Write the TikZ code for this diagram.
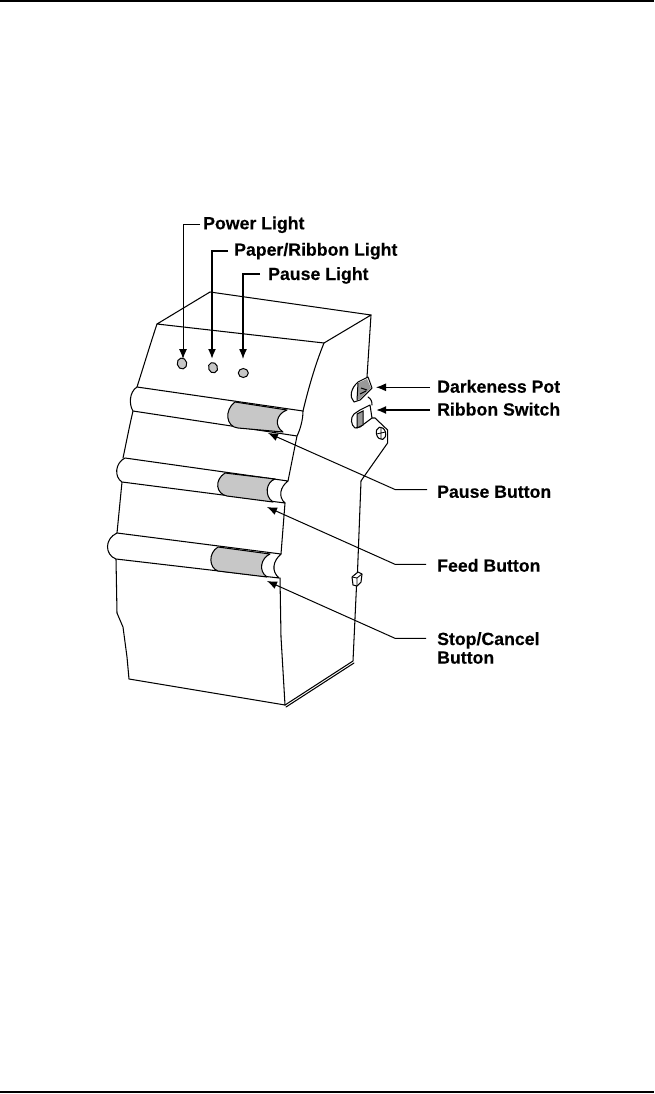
\documentclass[tikz,border=0pt]{standalone}
\usepackage{fontspec}
\setmainfont{Liberation Sans}
\newfontfamily\lblfont{Liberation Sans}[BoldFeatures={FakeBold=0.25}]
\usetikzlibrary{arrows.meta,shapes.geometric}
\tikzset{
  edge/.style={draw=black,line width=1.05pt,line join=round,line cap=round},
  barfill/.style={fill=white,draw=black,line width=1.05pt,line join=round},
  btn/.style={fill=black!22,draw=black,line width=1.05pt,line join=round},
  light/.style={ellipse,fill=black!22,draw=black,line width=1pt,inner sep=0pt},
  lbl/.style={font=\lblfont\fontsize{17.7}{18.6}\selectfont\bfseries,anchor=base west,inner sep=2.5pt,align=left},
  leader/.style={draw=black,line width=1pt,-{Latex[length=10pt,width=8pt]}},
  heavyleader/.style={draw=black,line width=1.8pt,-{Latex[length=10pt,width=8pt]}},
}
\begin{document}
\begin{tikzpicture}[x=1pt,y=-1pt]
\useasboundingbox (0,0) rectangle (654,1094);
\draw[line width=1.1pt] (0,1) -- (654,1);
\draw[line width=1.1pt] (0,1092) -- (654,1092);
% top
\draw[edge] (157,324) -- (210,292) -- (371,315) -- (324,343) -- cycle;
% left profile
\draw[edge] (157,324) .. controls (150,345) and (144,365) .. (137,387);
\draw[edge] (133,411) .. controls (129,428) and (126,444) .. (123,458);
\draw[edge] (122,482) -- (117,533);
\draw[edge] (116,559) -- (117,613) -- (123,627) -- (127,657) -- (129,679) -- (285,705);
% front right profile
\draw[edge] (324,343) .. controls (315,365) and (308,390) .. (303,411);
\draw[edge] (297,436) -- (288,481);
\draw[edge] (285,503) -- (281,554);
\draw[edge] (280,578) -- (281,637) -- (285,705);
% side
\draw[edge] (371,315) -- (367,377);
\draw[edge] (285,705) -- (353,661) -- (356.5,586);
\draw[edge] (286,707) -- (354,663);
\draw[edge] (357.5,572) -- (361,481) -- (363,478) -- (387.6,443) -- (387.6,430) -- (375,418) -- (372,418);
% bars
\draw[barfill] (137,387) -- (303,411) .. controls (303,420) and (300,430) .. (297,436) -- (133,411) .. controls (129,405) and (129,392) .. (137,387) -- cycle;
\draw[barfill] (125,458) -- (288,481) .. controls (280,487) and (278,497) .. (285,503) -- (122,482) .. controls (114,477) and (115,463) .. (125,458) -- cycle;
\draw[barfill] (117,533) -- (281,554) .. controls (273,561) and (271,571) .. (279,578) -- (116,559) .. controls (105,555) and (104,539) .. (117,533) -- cycle;
% buttons
\draw[btn] (235,402) -- (287,410) .. controls (276,414) and (274,426) .. (283,432) -- (238,428) .. controls (226,427) and (224,410) .. (235,402) -- cycle;
\draw[btn] (225,473) -- (275,479) .. controls (266,482) and (264,496) .. (273,502) -- (227,496) .. controls (216,494) and (214,480) .. (225,473) -- cycle;
\draw[btn] (218,547) -- (270,554) .. controls (261,558) and (258,571) .. (267,577) -- (218,571) .. controls (209,568) and (208,553) .. (218,547) -- cycle;
% lights
\node[light,minimum width=9.5pt,minimum height=11pt,rotate=12] (powerled) at (182,363.5) {};
\node[light,minimum width=9pt,minimum height=10.5pt,rotate=20] (paperled) at (213,367.7) {};
\node[light,minimum width=10pt,minimum height=9pt] (pauseled) at (243.3,373) {};
% pot
\draw[barfill] (358,382) -- (368,377) -- (372,388) -- (360,400) -- (354,402) .. controls (349,397) and (351,388) .. (358,382) -- cycle;
\fill[black!40] (358,383) -- (367,379) -- (371,388) -- (360,399) -- (357,400) -- cycle;
\draw[line width=1pt] (361,388) -- (367,390) (360,394) -- (366,391) (358,383) -- (357,400);
\draw[edge] (368,397) .. controls (371,399) and (372,401) .. (372,405);
% ribbon switch
\draw[barfill] (370,405) -- (360,410) -- (354,414) .. controls (350,418) and (351,425) .. (355,428) -- (360,427) -- (372,418) -- cycle;
\fill[black!40] (357,414) -- (363,411) -- (363,425) -- (357,428) -- cycle;
\draw[line width=1pt] (357,414) -- (363,411) -- (363,425) -- (357,428) -- cycle;
% screw
\draw[barfill,rotate around={15:(381,433.3)}] (381,433.3) ellipse (4.6pt and 6.3pt);
\draw[line width=0.8pt] (376.5,434) -- (385.5,432) (381,427.5) -- (381,439);
% small box
\draw[barfill] (352,577) -- (358,572) -- (362,574) -- (361,582) -- (357,586) -- (353,585) -- cycle;
\draw[line width=0.8pt] (352,577) -- (357,578) -- (362,574) (357,578) -- (357,586);
% labels
\node[lbl] (powerlab) at (200.5,229.3) {Power Light};
\node[lbl] (paperlab) at (231.5,255.7) {Paper/Ribbon Light};
\node[lbl] (pauselab) at (265.5,280) {Pause Light};
\node[lbl] (potlab) at (434.5,392.7) {Darkeness Pot};
\node[lbl] (riblab) at (434.5,415.5) {Ribbon Switch};
\node[lbl] (pblab) at (434.5,497.8) {Pause Button};
\node[lbl] (fblab) at (434.5,571.7) {Feed Button};
\node[lbl,anchor=west] (sclab) at (434.5,648) {Stop/Cancel\\Button};
% leader targets
\coordinate (powerend) at (200,224);
\coordinate (paperend) at (228,251);
\coordinate (pauseend) at (260,274);
\coordinate (potend) at (430,387.3);
\coordinate (ribend) at (430,410);
\coordinate (powertip) at (183,359);
\coordinate (papertip) at (212,359);
\coordinate (pausetip) at (243,359);
\coordinate (pottip) at (376,387.3);
\coordinate (ribtip) at (376,410);
\coordinate (pbtip) at (268,433);
\coordinate (fbtip) at (267,507);
\coordinate (sctip) at (267,581);
\coordinate (pbknee) at (395,489.5);
\coordinate (fbknee) at (395,564.3);
\coordinate (scknee) at (395,638.3);
\coordinate (pbend) at (427,489.5);
\coordinate (fbend) at (426,564.3);
\coordinate (scend) at (426,638.3);
% leaders
\draw[leader] (powerend) -| (powertip);
\draw[heavyleader] (paperend) -| (papertip);
\draw[leader,line width=1.3pt] (pauseend) -| (pausetip);
\draw[leader] (potend) -- (pottip);
\draw[heavyleader] (ribend) -- (ribtip);
\draw[leader] (pbend) -- (pbknee) -- (pbtip);
\draw[leader] (fbend) -- (fbknee) -- (fbtip);
\draw[leader] (scend) -- (scknee) -- (sctip);
\end{tikzpicture}
\end{document}
